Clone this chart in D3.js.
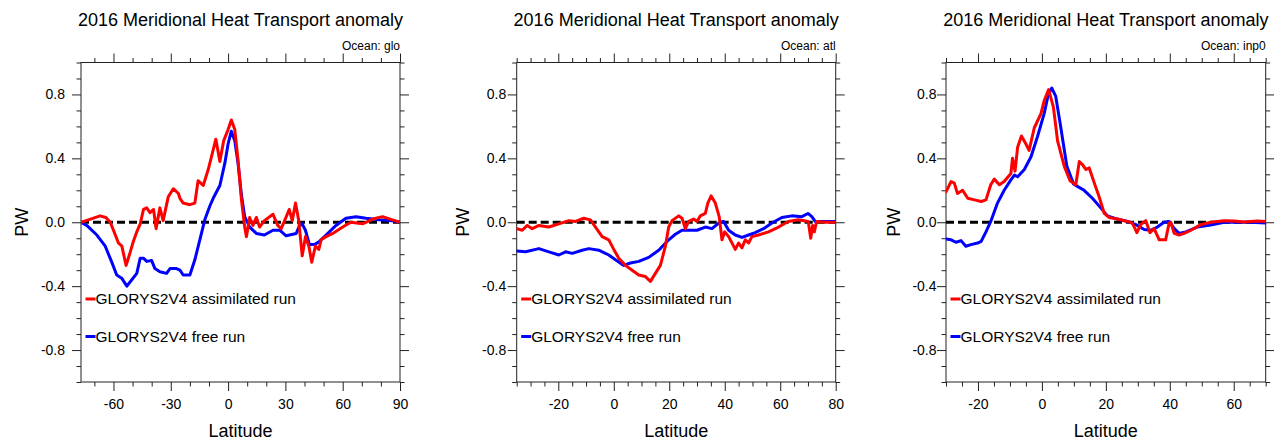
<!DOCTYPE html>
<html><head><meta charset="utf-8">
<script src="https://cdn.jsdelivr.net/npm/d3@7"></script>
<style>
body{margin:0;background:#fff}
svg{display:block}
text{font-family:"Liberation Sans",Arial,Helvetica,sans-serif;fill:#000}
</style>
</head><body>
<svg id="chart" width="1274" height="443"></svg>
<script>
// ---------- data ----------
const titleText = "2016 Meridional Heat Transport anomaly";
const oceanNames = ["glo", "atl", "inp0"];
const seriesNames = ["GLORYS2V4 assimilated run", "GLORYS2V4 free run"];
const seriesColors = ["#ff0000", "#0000ff"];
const yTickValues = [-0.8, -0.4, 0, 0.4, 0.8];
const xTicksGlo = [-60, -30, 0, 30, 60, 90];
const xTicksAtl = [-20, 0, 20, 40, 60, 80];
const xTicksInp = [-20, 0, 20, 40, 60];

// [latitude, PW]
const gloAssim = [[-77,0],[-72,0.02],[-67,0.04],[-64,0.03],[-61.7,0.0],[-60,-0.05],[-57.4,-0.13],[-55.6,-0.15],[-53.4,-0.27],[-51.3,-0.19],[-49.6,-0.12],[-47.8,-0.06],[-46,-0.01],[-44.3,0.08],[-42.6,0.09],[-40.9,0.06],[-39,0.08],[-37.7,-0.04],[-35.7,0.09],[-34,0.01],[-31.3,0.16],[-28.7,0.21],[-26,0.18],[-25.2,0.15],[-23.5,0.12],[-20,0.11],[-17.4,0.12],[-15.7,0.26],[-13,0.23],[-10.4,0.33],[-8.7,0.41],[-6.4,0.52],[-4.3,0.38],[-2.3,0.51],[0,0.58],[1.7,0.64],[3.5,0.58],[5.2,0.39],[7,0.14],[8.7,-0.03],[9.6,-0.09],[11.3,0.03],[13,-0.02],[14.8,0.03],[16.5,-0.03],[19,0.01],[23.5,0.05],[26,-0.02],[27.8,-0.04],[29.6,0.01],[32,0.08],[33.6,0.01],[35.3,0.12],[37,0.01],[38.8,-0.21],[40.5,-0.09],[42.3,-0.15],[43.8,-0.25],[45.7,-0.15],[47.5,-0.17],[48.7,-0.11],[51.3,-0.09],[54.8,-0.07],[60,-0.03],[64.3,0.0],[70.4,-0.01],[75.7,0.02],[80.9,0.035],[86,0.015],[90,0]];
const gloFree = [[-77,0],[-74,-0.02],[-68.7,-0.08],[-64.3,-0.15],[-60.9,-0.25],[-58.3,-0.33],[-55.7,-0.35],[-53,-0.40],[-50.4,-0.36],[-47.8,-0.32],[-46,-0.225],[-44.3,-0.225],[-42.6,-0.245],[-40,-0.24],[-38.3,-0.29],[-35.7,-0.31],[-32.2,-0.32],[-30.4,-0.29],[-27,-0.29],[-25.2,-0.30],[-23.5,-0.33],[-20,-0.33],[-17.4,-0.235],[-14.8,-0.11],[-12.2,0.015],[-9.6,0.1],[-7.8,0.15],[-4.3,0.23],[-1.7,0.37],[0,0.49],[1.7,0.57],[3.5,0.51],[5.2,0.37],[7,0.17],[8.7,0.035],[11.3,-0.03],[14.8,-0.07],[19,-0.08],[23.5,-0.05],[27,-0.05],[30.4,-0.085],[35.7,-0.07],[37.4,-0.02],[38.8,-0.01],[40.5,-0.05],[42.6,-0.14],[45.2,-0.14],[47.8,-0.12],[51.3,-0.08],[56.5,-0.02],[61.7,0.025],[67,0.035],[72.2,0.025],[79,0.015],[86,0.01],[90,0]];
const atlAssim = [[-35,-0.04],[-33,-0.05],[-31.2,-0.02],[-29.4,-0.04],[-27,-0.02],[-23.4,-0.03],[-19.8,-0.01],[-16.2,0.01],[-13.8,0.005],[-10.8,0.025],[-8.4,0.015],[-6.6,-0.03],[-4.2,-0.09],[-1.8,-0.11],[0,-0.17],[1.8,-0.225],[4.2,-0.27],[6.6,-0.30],[9,-0.33],[11.4,-0.34],[13.2,-0.37],[15,-0.32],[16.8,-0.27],[18.6,-0.15],[19.8,-0.03],[21,0.01],[23.4,0.04],[24.6,0.025],[25.8,-0.04],[27,0.005],[28.8,0.02],[30,0.005],[31.2,0.04],[33,0.055],[33.9,0.12],[35.1,0.165],[36.6,0.12],[38,0.035],[39,-0.11],[40,-0.06],[41.4,-0.09],[43.8,-0.17],[45,-0.13],[46.2,-0.16],[47.4,-0.11],[48.6,-0.13],[49.8,-0.09],[52.2,-0.08],[55.8,-0.06],[59.4,-0.03],[62.9,0.005],[66.5,0.015],[70.1,0.005],[71,-0.10],[71.7,-0.02],[72.3,-0.06],[73.1,0.005],[76,0],[80,0]];
const atlFree = [[-35,-0.18],[-31.8,-0.185],[-27,-0.165],[-23.4,-0.185],[-19.8,-0.205],[-17.4,-0.185],[-15,-0.195],[-11.4,-0.175],[-9,-0.165],[-5.4,-0.175],[-1.8,-0.205],[0.6,-0.235],[3.6,-0.27],[6,-0.255],[9,-0.245],[12.6,-0.22],[16.2,-0.175],[19.8,-0.11],[22.2,-0.075],[24.6,-0.05],[27,-0.05],[30,-0.05],[33,-0.03],[35.4,-0.04],[37.8,-0.005],[39.6,0.005],[41.4,-0.05],[43.8,-0.08],[46.2,-0.095],[48.6,-0.08],[51,-0.065],[54,-0.04],[57,-0.005],[60.6,0.03],[64.2,0.04],[67.8,0.035],[70,0.055],[71.4,0.035],[72.6,0.005],[76.1,0.005],[80,0.005]];
const inpAssim = [[-30,0.19],[-28.4,0.255],[-27.4,0.245],[-26.4,0.18],[-24.8,0.2],[-23.2,0.15],[-21.1,0.14],[-19,0.13],[-17.5,0.14],[-16,0.235],[-14.9,0.27],[-13.3,0.235],[-11.8,0.255],[-9.7,0.305],[-9.2,0.40],[-8.4,0.32],[-7.6,0.47],[-6.4,0.54],[-5,0.49],[-4,0.45],[-2.4,0.59],[-0.3,0.68],[0.7,0.76],[2.1,0.83],[3.6,0.72],[4.9,0.51],[7,0.35],[8.8,0.26],[10.6,0.235],[11.7,0.38],[12.7,0.36],[13.8,0.33],[14.8,0.34],[16.4,0.245],[17.9,0.16],[19.5,0.055],[21,0.03],[23.6,0.02],[26.8,0.005],[28.3,-0.005],[29.7,-0.065],[30.9,-0.015],[32.5,0.01],[33.8,-0.065],[35.1,-0.04],[36.7,-0.11],[38.7,-0.11],[39.8,-0.005],[40.3,0],[41.4,-0.07],[42.9,-0.08],[44.5,-0.07],[46.6,-0.05],[49.7,-0.015],[52.8,0],[57,0.01],[60.1,0.008],[63.2,0.002],[67.4,0.008],[70,0.004]];
const inpFree = [[-30,-0.105],[-28.4,-0.11],[-26.9,-0.125],[-25.3,-0.115],[-23.8,-0.15],[-22.2,-0.14],[-20.1,-0.13],[-19,-0.12],[-17.5,-0.06],[-16,0.005],[-13.9,0.12],[-11.8,0.2],[-9.7,0.265],[-8.6,0.295],[-7.6,0.285],[-5.5,0.33],[-3.4,0.41],[-1.4,0.535],[0.7,0.68],[2,0.8],[3.1,0.84],[4.3,0.79],[5.7,0.62],[7.8,0.35],[9.9,0.24],[11.5,0.22],[13.2,0.2],[15.8,0.15],[18.4,0.09],[20.5,0.04],[23.6,0.02],[26.8,0.005],[29.4,-0.015],[32,-0.045],[34,-0.05],[36.1,-0.03],[38.2,0],[39.8,0.005],[41.4,-0.04],[42.9,-0.07],[45,-0.06],[48.6,-0.03],[52.8,-0.017],[57,0],[61.1,0],[65.3,0],[70,-0.005]];

// ---------- layout ----------
const panels = [
  {ocean: oceanNames[0], series: [gloAssim, gloFree], xDomain: [-77, 90], xTicks: xTicksGlo, minorStep: 10, left: 81, right: 400, labelGap: 16, ylabelX: 21},
  {ocean: oceanNames[1], series: [atlAssim, atlFree], xDomain: [-35, 80], xTicks: xTicksAtl, minorStep: 5, left: 516.7, right: 835.7, labelGap: 10.5, ylabelX: 462},
  {ocean: oceanNames[2], series: [inpAssim, inpFree], xDomain: [-30, 70], xTicks: xTicksInp, minorStep: 5, left: 946, right: 1265.7, labelGap: 9.5, ylabelX: 893.5}
];
const plotTop = 62.5, plotBottom = 382;
const majorLen = 9, minorLen = 4.5;
const frameColor = "#222";
const hyphen = f => d => f(d).replace("\u2212", "-");

const svg = d3.select("#chart");
const y = d3.scaleLinear().domain([-1, 1]).range([plotBottom, plotTop]);
const yMinor = d3.range(-10, 11).map(d => d / 10).filter(v => !yTickValues.some(t => Math.abs(t - v) < 1e-9));

panels.forEach((p, pi) => {
  const x = d3.scaleLinear().domain(p.xDomain).range([p.left, p.right]);
  const g = svg.append("g");
  const xMinor = d3.range(Math.ceil(p.xDomain[0] / p.minorStep) * p.minorStep, p.xDomain[1] + 1e-9, p.minorStep)
    .filter(v => !p.xTicks.includes(v));

  const cid = "clip" + pi;
  svg.append("clipPath").attr("id", cid).append("rect")
    .attr("x", p.left).attr("y", plotTop).attr("width", p.right - p.left).attr("height", plotBottom - plotTop);

  const axStyle = sel => { sel.select(".domain").remove(); sel.selectAll("line").attr("stroke", frameColor).attr("stroke-width", 1); };
  const txtStyle = s => s.selectAll("text").attr("font-size", 14).attr("font-family", '"Liberation Sans",Arial,sans-serif').attr("fill", "#000");

  g.append("g").attr("transform", `translate(0,${plotBottom})`)
    .call(d3.axisBottom(x).tickValues(p.xTicks).tickSize(majorLen).tickPadding(8).tickFormat(hyphen(d3.format("d"))))
    .call(axStyle).call(txtStyle);
  g.append("g").attr("transform", `translate(0,${plotBottom})`)
    .call(d3.axisBottom(x).tickValues(xMinor).tickSize(minorLen).tickFormat(""))
    .call(axStyle);
  g.append("g").attr("transform", `translate(0,${plotTop})`)
    .call(d3.axisTop(x).tickValues(p.xTicks).tickSize(majorLen).tickFormat(""))
    .call(axStyle);
  g.append("g").attr("transform", `translate(0,${plotTop})`)
    .call(d3.axisTop(x).tickValues(xMinor).tickSize(minorLen).tickFormat(""))
    .call(axStyle);
  g.append("g").attr("transform", `translate(${p.left},0)`)
    .call(d3.axisLeft(y).tickValues(yTickValues).tickSize(majorLen).tickPadding(p.labelGap - majorLen).tickFormat(hyphen(d3.format(".1f"))))
    .call(axStyle).call(txtStyle);
  g.append("g").attr("transform", `translate(${p.left},0)`)
    .call(d3.axisLeft(y).tickValues(yMinor).tickSize(minorLen).tickFormat(""))
    .call(axStyle);
  g.append("g").attr("transform", `translate(${p.right},0)`)
    .call(d3.axisRight(y).tickValues(yTickValues).tickSize(majorLen).tickFormat(""))
    .call(axStyle);
  g.append("g").attr("transform", `translate(${p.right},0)`)
    .call(d3.axisRight(y).tickValues(yMinor).tickSize(minorLen).tickFormat(""))
    .call(axStyle);

  g.append("rect").attr("x", p.left).attr("y", plotTop).attr("width", p.right - p.left).attr("height", plotBottom - plotTop)
    .attr("fill", "none").attr("stroke", frameColor).attr("stroke-width", 1);

  const plot = g.append("g").attr("clip-path", `url(#${cid})`);
  plot.append("line").attr("x1", x(p.xDomain[0])).attr("x2", x(p.xDomain[1])).attr("y1", y(0)).attr("y2", y(0))
    .attr("stroke", "#000").attr("stroke-width", 3).attr("stroke-dasharray", "8,4");

  const line = d3.line().x(d => x(d[0])).y(d => y(d[1]));
  [1, 0].forEach(si => {
    plot.append("path").datum(p.series[si]).attr("d", line)
      .attr("fill", "none").attr("stroke", seriesColors[si]).attr("stroke-width", 3)
      .attr("stroke-linejoin", "round").attr("stroke-linecap", "round");
  });

  const legY = [299, 336.5];
  seriesNames.forEach((name, si) => {
    g.append("line").attr("x1", p.left + 4.5).attr("x2", p.left + 14.5).attr("y1", legY[si]).attr("y2", legY[si])
      .attr("stroke", seriesColors[si]).attr("stroke-width", 3);
    g.append("text").attr("x", p.left + 14.5).attr("y", legY[si]).attr("dy", "0.35em")
      .attr("font-size", 15.5).text(name);
  });

  const cx = (p.left + p.right) / 2;
  g.append("text").attr("x", cx).attr("y", 25.7).attr("text-anchor", "middle").attr("font-size", 18).text(titleText);
  g.append("text").attr("x", p.right).attr("y", 50).attr("text-anchor", "end").attr("font-size", 12).text("Ocean: " + p.ocean);
  g.append("text").attr("x", cx).attr("y", 437).attr("text-anchor", "middle").attr("font-size", 18).text("Latitude");
  g.append("text").attr("transform", `translate(${p.ylabelX + 6.5},${y(0)}) rotate(-90)`)
    .attr("text-anchor", "middle").attr("font-size", 18).text("PW");
});
</script>
</body></html>
